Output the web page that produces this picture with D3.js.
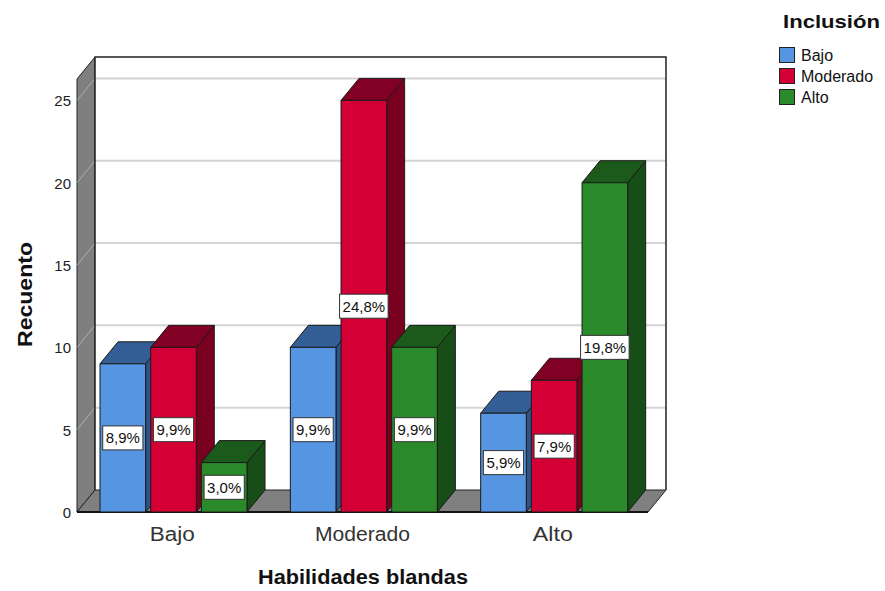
<!DOCTYPE html>
<html>
<head>
<meta charset="utf-8">
<script src="https://cdn.jsdelivr.net/npm/d3@7"></script>
<style>
  body { margin: 0; background: #fff; }
  text { font-family: "Liberation Sans", Arial, sans-serif; }
</style>
</head>
<body>
<div id="chart"></div>
<script>
// data
const categories = ["Bajo", "Moderado", "Alto"];
const series = ["Bajo", "Moderado", "Alto"];
const counts = [
  [9, 10, 3],
  [10, 25, 10],
  [6, 8, 20]
];
const percents = [
  ["8,9%", "9,9%", "3,0%"],
  ["9,9%", "24,8%", "9,9%"],
  ["5,9%", "7,9%", "19,8%"]
];
const yTicks = [0, 5, 10, 15, 20, 25];

const width = 885, height = 591;
const dx = 18, dy = 22;   // depth offset of the 3D box
const front = {left: 77, right: 648, bottom: 512, top: 79};

const colors = {
  Bajo:     {front: "#5595e2", top: "#335f96", side: "#2d5487"},
  Moderado: {front: "#d40035", top: "#820024", side: "#7a0020"},
  Alto:     {front: "#2a8a2a", top: "#1c5a1c", side: "#174d17"}
};

const svg = d3.select("#chart").append("svg")
  .attr("width", width)
  .attr("height", height);

const y = d3.scaleLinear().domain([0, 26.3]).range([front.bottom, front.top]);
const x = d3.scaleBand().domain(categories).range([front.left, front.right]);
const xSub = d3.scaleBand().domain(series).range([23, 170]).paddingInner(0.1);

const poly = pts => pts.map(p => p.join(",")).join(" ");

// left side wall
svg.append("polygon")
  .attr("points", poly([[front.left, front.bottom], [front.left, front.top],
    [front.left + dx, front.top - dy], [front.left + dx, front.bottom - dy]]))
  .attr("fill", "#7f7f7f")
  .attr("stroke", "#222")
  .attr("stroke-width", 1);

// back wall
svg.append("rect")
  .attr("x", front.left + dx)
  .attr("y", front.top - dy)
  .attr("width", front.right - front.left)
  .attr("height", front.bottom - front.top)
  .attr("fill", "#fff");

// gridlines on back wall and side wall
yTicks.filter(d => d > 0).forEach(d => {
  svg.append("line")
    .attr("x1", front.left + dx).attr("x2", front.right + dx)
    .attr("y1", y(d) - dy).attr("y2", y(d) - dy)
    .attr("stroke", "#d4d4d4").attr("stroke-width", 2);
  svg.append("line")
    .attr("x1", front.left).attr("x2", front.left + dx)
    .attr("y1", y(d)).attr("y2", y(d) - dy)
    .attr("stroke", "#b0b0b0").attr("stroke-width", 1);
});

// back wall edges
svg.append("path")
  .attr("d", `M${front.left + dx},${front.bottom - dy}V${front.top - dy}H${front.right + dx}V${front.bottom - dy}`)
  .attr("fill", "none")
  .attr("stroke", "#222")
  .attr("stroke-width", 1.5);

// floor
svg.append("polygon")
  .attr("points", poly([[front.left, front.bottom], [front.right, front.bottom],
    [front.right + dx, front.bottom - dy], [front.left + dx, front.bottom - dy]]))
  .attr("fill", "#808080")
  .attr("stroke", "#222")
  .attr("stroke-width", 1);
svg.append("line")
  .attr("x1", front.left).attr("x2", front.right)
  .attr("y1", front.bottom).attr("y2", front.bottom)
  .attr("stroke", "#111").attr("stroke-width", 2);

// bars, left to right so each front face covers the previous side face
const bars = [];
categories.forEach((c, i) => {
  series.forEach((s, j) => {
    bars.push({cat: c, ser: s, value: counts[i][j], label: percents[i][j]});
  });
});

const barG = svg.append("g");
bars.forEach(d => {
  const x0 = x(d.cat) + xSub(d.ser);
  const x1 = x0 + xSub.bandwidth();
  const yt = y(d.value), yb = y(0);
  const col = colors[d.ser];
  const g = barG.append("g")
    .attr("stroke", "#1a1a1a")
    .attr("stroke-width", 1)
    .attr("stroke-linejoin", "round");
  // side face
  g.append("polygon")
    .attr("points", poly([[x1, yb], [x1, yt], [x1 + dx, yt - dy], [x1 + dx, yb - dy]]))
    .attr("fill", col.side);
  // top face
  g.append("polygon")
    .attr("points", poly([[x0, yt], [x1, yt], [x1 + dx, yt - dy], [x0 + dx, yt - dy]]))
    .attr("fill", col.top);
  // front face
  g.append("rect")
    .attr("x", x0).attr("y", yt)
    .attr("width", x1 - x0).attr("height", yb - yt)
    .attr("fill", col.front);
});

// percentage labels
const labG = svg.append("g");
bars.forEach(d => {
  const cx = x(d.cat) + xSub(d.ser) + xSub.bandwidth() / 2;
  const cy = (y(d.value) + y(0)) / 2;
  const t = labG.append("text")
    .attr("x", cx).attr("y", cy + 5.5)
    .attr("text-anchor", "middle")
    .attr("font-size", 15)
    .attr("fill", "#111")
    .text(d.label);
  const w = t.node().getComputedTextLength();
  labG.insert("rect", "text")
    .attr("x", cx - w / 2 - 3).attr("y", cy - 12)
    .attr("width", w + 6).attr("height", 24)
    .attr("fill", "#fff")
    .attr("stroke", "#333")
    .attr("stroke-width", 1);
});

// y tick labels
svg.append("g").selectAll("text")
  .data(yTicks)
  .join("text")
    .attr("x", front.left - 6)
    .attr("y", d => y(d) + 6)
    .attr("text-anchor", "end")
    .attr("font-size", 15)
    .attr("fill", "#222")
    .text(d => d);

// category labels
const catWidths = {Bajo: 45, Moderado: 95, Alto: 40};
svg.append("g").selectAll("text")
  .data(categories)
  .join("text")
    .attr("x", d => x(d) + x.bandwidth() / 2)
    .attr("y", 541)
    .attr("text-anchor", "middle")
    .attr("font-size", 20)
    .attr("fill", "#333")
    .attr("textLength", d => catWidths[d])
    .attr("lengthAdjust", "spacingAndGlyphs")
    .text(d => d);

// axis titles
svg.append("text")
  .attr("x", 363).attr("y", 584)
  .attr("text-anchor", "middle")
  .attr("font-size", 19.5)
  .attr("font-weight", "bold")
  .attr("fill", "#111")
  .attr("textLength", 210)
  .attr("lengthAdjust", "spacingAndGlyphs")
  .text("Habilidades blandas");

svg.append("text")
  .attr("transform", "translate(32,294.5) rotate(-90)")
  .attr("text-anchor", "middle")
  .attr("font-size", 19.5)
  .attr("font-weight", "bold")
  .attr("fill", "#111")
  .attr("textLength", 105)
  .attr("lengthAdjust", "spacingAndGlyphs")
  .text("Recuento");

// legend
const legend = svg.append("g").attr("transform", "translate(779,0)");
legend.append("text")
  .attr("x", 4).attr("y", 28)
  .attr("font-size", 19)
  .attr("font-weight", "bold")
  .attr("fill", "#111")
  .attr("textLength", 97)
  .attr("lengthAdjust", "spacingAndGlyphs")
  .text("Inclusión");
const items = legend.selectAll(".legend-item")
  .data(series)
  .join("g")
    .attr("class", "legend-item")
    .attr("transform", (d, i) => `translate(0, ${47 + i * 21})`);
items.append("rect")
  .attr("x", 0.5).attr("y", 0.5)
  .attr("width", 15).attr("height", 15)
  .attr("fill", d => colors[d].front)
  .attr("stroke", "#222");
items.append("text")
  .attr("x", 22).attr("y", 14)
  .attr("font-size", 16)
  .attr("fill", "#111")
  .text(d => d);
</script>
</body>
</html>
